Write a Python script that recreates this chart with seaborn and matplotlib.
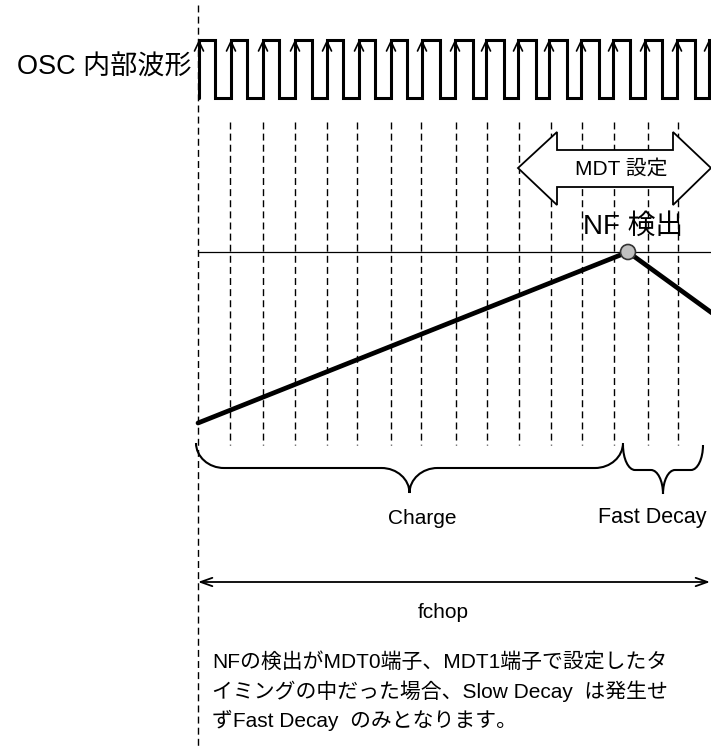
import numpy as np
import pandas as pd
import matplotlib
matplotlib.use("Agg")
import matplotlib.pyplot as plt
import seaborn as sns
from matplotlib.path import Path
from matplotlib.patches import PathPatch, Polygon, Circle

# ---- data (pixel-space diagram coordinates) ----
clock_rise = [199, 231, 263, 295, 327, 359, 391, 422, 455, 486, 518, 549, 581, 613, 645, 677, 709]
clock_fall = [215, 247, 279, 312, 343, 375, 407, 440, 473, 504, 536, 567, 599, 630, 662, 695]
clock_high = 40
clock_low = 98
grid_x = [230, 263, 295, 327, 357, 391, 421, 456, 487, 519, 551, 582, 614, 648, 678]
grid_top, grid_bottom = 122, 445
origin_x = 198
current_x = [198, 628, 712]
current_y = [423, 252, 313]
nf_level = 252
nf_point = (628, 252)
mdt_span = (518, 711)
charge_span = (196, 623)
fast_span = (623, 703)
fchop_span = (198, 711)

label_osc = "OSC 内部波形"
label_mdt = "MDT 設定"
label_nf = "NF 検出"
label_charge = "Charge"
label_fast = "Fast Decay"
label_fchop = "fchop"
note_lines = ["NFの検出がMDT0端子、MDT1端子で設定したタ",
              "イミングの中だった場合、Slow Decay  は発生せ",
              "ずFast Decay  のみとなります。"]

sns.set_theme(style="white")
plt.rcParams["font.family"] = ["Liberation Sans", "Noto Sans CJK JP", "DejaVu Sans"]
plt.rcParams["text.color"] = "black"

fig = plt.figure(figsize=(7.11, 7.47), dpi=100)
ax = fig.add_axes([0, 0, 1, 1])
ax.set_xlim(0, 711)
ax.set_ylim(747, 0)
ax.axis("off")

# clock square wave
cx, cy = [], []
for i, r in enumerate(clock_rise):
    cx += [r, r]
    cy += [clock_low, clock_high]
    if i < len(clock_fall):
        cx += [clock_fall[i], clock_fall[i]]
        cy += [clock_high, clock_low]
    else:
        cx += [720]
        cy += [clock_high]
clk = pd.DataFrame({"x": cx, "y": cy})
sns.lineplot(data=clk, x="x", y="y", sort=False, estimator=None, color="black",
             lw=2.2, ax=ax, solid_joinstyle="miter")
# rising edge arrowheads
for r in clock_rise:
    ax.plot([r - 4.5, r, r + 4.5], [51, clock_high + 1.5, 51], color="black", lw=1.2)

# origin dashed line
ax.plot([origin_x, origin_x], [5, 747], color="black", lw=1.0, dashes=(5, 3))
# grid dashed lines
for gx in grid_x:
    ax.plot([gx, gx], [grid_top, grid_bottom], color="black", lw=1.0, dashes=(5, 3))

# threshold line
ax.plot([origin_x, 711], [nf_level, nf_level], color="black", lw=0.9)

# current waveform
cur = pd.DataFrame({"x": current_x, "y": current_y})
sns.lineplot(data=cur, x="x", y="y", sort=False, estimator=None, color="black",
             lw=3.4, ax=ax)
ax.add_patch(Circle(nf_point, 7.5, facecolor="#c0c0c0", edgecolor="#333333", lw=1.2, zorder=5))

# MDT double arrow
l, r = mdt_span
yc = 168
poly = [(l, yc), (l + 39, 132), (l + 39, 150), (r - 38, 150), (r - 38, 132), (r, yc),
        (r - 38, 205), (r - 38, 187), (l + 39, 187), (l + 39, 205)]
ax.add_patch(Polygon(poly, closed=True, facecolor="white", edgecolor="black", lw=1.3, zorder=4))
ax.text(621, yc + 1, label_mdt, ha="center", va="center", fontsize=15, zorder=6)
ax.text(633, 227, label_nf, ha="center", va="center", fontsize=20, zorder=6)
ax.text(192, 68, label_osc, ha="right", va="center", fontsize=19.5)


def brace(x0, x1, y0, ym, yt, rad):
    xc = (x0 + x1) / 2
    k = 0.55
    verts = [(x0, y0), (x0, y0 + k * (ym - y0)), (x0 + rad * (1 - k), ym), (x0 + rad, ym),
             (xc - rad, ym),
             (xc - rad * (1 - k), ym), (xc, ym + (1 - k) * (yt - ym)), (xc, yt),
             (xc, ym + (1 - k) * (yt - ym)), (xc + rad * (1 - k), ym), (xc + rad, ym),
             (x1 - rad, ym),
             (x1 - rad * (1 - k), ym), (x1, y0 + k * (ym - y0)), (x1, y0)]
    codes = [Path.MOVETO, Path.CURVE4, Path.CURVE4, Path.CURVE4,
             Path.LINETO,
             Path.CURVE4, Path.CURVE4, Path.CURVE4,
             Path.CURVE4, Path.CURVE4, Path.CURVE4,
             Path.LINETO,
             Path.CURVE4, Path.CURVE4, Path.CURVE4]
    ax.add_patch(PathPatch(Path(verts, codes), facecolor="none", edgecolor="black", lw=1.5))


brace(charge_span[0], charge_span[1], 443, 468, 493, 28)
brace(fast_span[0], fast_span[1], 445, 470, 494, 12)
ax.text((charge_span[0] + charge_span[1]) / 2 + 13, 518, label_charge, ha="center", va="center", fontsize=15)
ax.text(598, 518, label_fast, ha="left", va="center", fontsize=15.5)

# fchop arrow
ax.annotate("", xy=(fchop_span[0], 582), xytext=(fchop_span[1] - 1, 582),
            arrowprops=dict(arrowstyle="<->,head_length=0.7,head_width=0.25", color="black", lw=1.3,
                            shrinkA=0, shrinkB=0))
ax.text(443, 613, label_fchop, ha="center", va="center", fontsize=15)

for i, line in enumerate(note_lines):
    ax.text(212, 662 + i * 29, line, ha="left", va="center", fontsize=15)

fig.savefig("out.png", dpi=100)
